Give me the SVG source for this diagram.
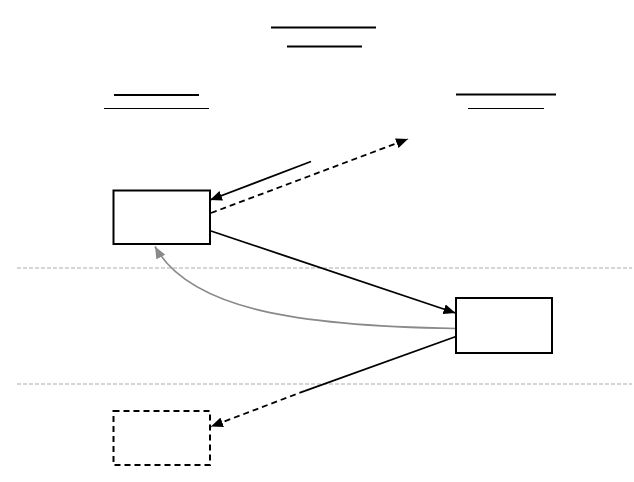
<svg xmlns="http://www.w3.org/2000/svg" width="634" height="482" viewBox="0 0 634 482">
<defs>
<style>
.box{fill:#fff;stroke:#000;stroke-width:2}
.dbox{fill:#fff;stroke:#000;stroke-width:2;stroke-dasharray:6 4}
.sep{stroke:#c8c8c8;stroke-width:1.3;stroke-dasharray:4 2;fill:none}
.c{fill:none;stroke:#000;stroke-width:1.8}
.d{stroke-dasharray:6 4}
.g{fill:none;stroke:#8a8a8a;stroke-width:1.6}
.ul{stroke:#000}
</style>
<marker id="ah" viewBox="0 0 12 10" refX="12" refY="5" markerWidth="12" markerHeight="10" markerUnits="userSpaceOnUse" orient="auto">
<path d="M0,0 L12,5 L0,10 z" fill="#000"/>
</marker>
<marker id="ahg" viewBox="0 0 12 10" refX="12" refY="5" markerWidth="12" markerHeight="10" markerUnits="userSpaceOnUse" orient="auto">
<path d="M0,0 L12,5 L0,10 z" fill="#8a8a8a"/>
</marker>
</defs>
<rect width="634" height="482" fill="#fff"/>
<g id="separators">
<line class="sep" x1="17" y1="268" x2="632" y2="268"/>
<line class="sep" x1="17" y1="384" x2="632" y2="384"/>
</g>
<g id="headings">
<line class="ul" x1="271" y1="27.5" x2="376" y2="27.5" stroke-width="2.2"/>
<line class="ul" x1="287" y1="46.5" x2="362" y2="46.5" stroke-width="2.2"/>
<line class="ul" x1="114" y1="95" x2="199" y2="95" stroke-width="2.2"/>
<line class="ul" x1="104" y1="108.5" x2="209" y2="108.5" stroke-width="1.2"/>
<line class="ul" x1="456" y1="94.5" x2="556" y2="94.5" stroke-width="2.2"/>
<line class="ul" x1="468" y1="108.5" x2="544" y2="108.5" stroke-width="1.2"/>
</g>
<g id="connectors">
<path class="c" d="M311,161.5 L210,200" marker-end="url(#ah)"/>
<path class="c d" d="M211,213 L408,139" marker-end="url(#ah)"/>
<path class="c" d="M211,231 L455.5,313" marker-end="url(#ah)"/>
<path class="g" d="M456,328.5 C300,326 190,310 155,246.5" marker-end="url(#ahg)"/>
<path class="c" d="M456,336.5 L305,390.8"/>
<path class="c d" d="M305,390.8 L211,426.5" marker-end="url(#ah)"/>
</g>
<g id="node1"><rect class="box" x="113.5" y="190.5" width="96.5" height="53.5"/></g>
<g id="node2"><rect class="box" x="456" y="298" width="96" height="55"/></g>
<g id="node3"><rect class="dbox" x="113.5" y="411" width="96.5" height="54"/></g>
</svg>
